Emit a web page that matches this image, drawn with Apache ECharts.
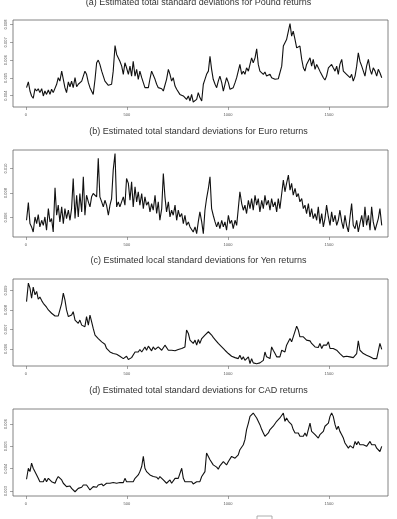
<!DOCTYPE html>
<html>
<head>
<meta charset="utf-8">
<script src="https://cdn.jsdelivr.net/npm/echarts@6/dist/echarts.min.js"></script>
<style>
  html, body { margin: 0; padding: 0; background: #fff; }
  #main { width: 397px; height: 519px; }
</style>
</head>
<body>
<div id="main"></div>
<script>
// day index of each sampled point (shared by all four series)
const days = [
  3, 12, 20, 28, 36, 45, 53, 61, 69, 78,
  86, 94, 102, 111, 119, 127, 135, 144, 152, 160,
  168, 177, 185, 193, 201, 210, 218, 226, 234, 243,
  251, 259, 267, 276, 284, 292, 300, 309, 317, 325,
  333, 342, 350, 358, 366, 375, 383, 391, 399, 408,
  416, 424, 432, 441, 449, 457, 465, 474, 482, 490,
  498, 507, 515, 523, 531, 540, 548, 556, 564, 573,
  581, 589, 597, 606, 614, 622, 630, 639, 647, 655,
  663, 672, 680, 688, 696, 705, 713, 721, 729, 738,
  746, 754, 762, 771, 779, 787, 795, 804, 812, 820,
  828, 837, 845, 853, 861, 870, 878, 886, 894, 903,
  911, 919, 927, 936, 944, 952, 960, 969, 977, 985,
  993, 1002, 1010, 1018, 1026, 1035, 1043, 1051, 1059, 1068,
  1076, 1084, 1092, 1101, 1109, 1117, 1125, 1134, 1142, 1150,
  1158, 1167, 1175, 1183, 1191, 1200, 1208, 1216, 1224, 1233,
  1241, 1249, 1257, 1266, 1274, 1282, 1290, 1299, 1307, 1315,
  1323, 1332, 1340, 1348, 1356, 1365, 1373, 1381, 1389, 1398,
  1406, 1414, 1422, 1431, 1439, 1447, 1455, 1464, 1472, 1480,
  1488, 1497, 1505, 1513, 1521, 1530, 1538, 1546, 1554, 1563,
  1571, 1579, 1587, 1596, 1604, 1612, 1620, 1629, 1637, 1645,
  1653, 1662, 1670, 1678, 1686, 1695, 1703, 1711, 1719, 1728,
  1736, 1744, 1752, 1761
];

// standard deviations, in units of 0.001
const pound = [
  4.45, 4.77, 4.26, 3.98, 3.85, 4.39, 4.26, 4.39, 4.17, 4.39,
  3.98, 4.26, 4.07, 4.32, 4.07, 4.36, 4.17, 4.07, 4.64, 5.01,
  4.82, 5.38, 4.92, 4.45, 4.17, 4.77, 4.50, 4.82, 4.45, 5.01,
  4.50, 4.64, 4.58, 4.82, 4.92, 5.38, 5.20, 4.73, 4.45, 4.36,
  4.07, 4.92, 5.85, 6.00, 5.76, 5.38, 5.10, 4.82, 4.73, 4.58,
  4.50, 4.64, 5.38, 6.82, 6.32, 6.41, 5.94, 5.66, 5.20, 5.85,
  5.57, 5.20, 5.66, 5.10, 5.94, 5.10, 5.48, 4.92, 5.38, 5.01,
  4.73, 4.45, 4.50, 4.45, 4.95, 5.38, 5.33, 4.92, 4.64, 4.45,
  4.36, 4.39, 4.26, 4.17, 4.92, 5.48, 5.20, 4.82, 5.01, 4.54,
  4.36, 4.26, 4.07, 4.17, 3.98, 3.89, 3.79, 3.98, 3.70, 4.07,
  3.64, 3.57, 3.79, 4.17, 3.89, 3.70, 4.64, 4.92, 5.20, 5.38,
  6.22, 5.48, 4.92, 4.64, 4.45, 4.82, 5.10, 4.73, 4.26, 4.64,
  5.01, 4.73, 4.36, 4.26, 4.45, 4.73, 5.01, 4.92, 5.76, 5.20,
  5.38, 5.20, 5.57, 5.38, 5.76, 6.13, 5.85, 6.13, 6.64, 5.76,
  5.38, 5.48, 5.20, 5.33, 5.10, 5.14, 5.20, 5.01, 5.10, 4.92,
  4.88, 4.95, 4.86, 5.66, 6.79, 6.88, 7.16, 7.63, 8.06, 7.35,
  7.63, 7.16, 6.69, 6.60, 6.79, 6.04, 5.57, 5.38, 5.76, 5.66,
  6.13, 5.66, 6.04, 5.48, 5.76, 5.57, 5.38, 5.29, 5.01, 4.88,
  5.10, 5.57, 5.66, 5.76, 5.57, 5.38, 5.66, 5.20, 5.76, 6.04,
  5.38, 5.29, 5.20, 5.10, 5.01, 5.20, 4.82, 5.10, 5.66, 6.41,
  5.94, 5.66, 5.38, 5.10, 5.66, 6.04, 5.48, 5.20, 5.57, 5.38,
  5.10, 5.48, 5.29, 5.01
];

const euro = [
  5.78, 7.22, 5.51, 5.24, 4.83, 6.05, 5.51, 6.24, 5.24, 5.78,
  5.37, 6.05, 4.97, 6.73, 5.65, 5.92, 4.83, 8.42, 6.19, 7.01,
  5.65, 6.87, 5.51, 6.73, 5.92, 6.60, 5.78, 6.73, 9.18, 5.92,
  7.82, 6.05, 7.96, 6.46, 9.32, 6.19, 7.82, 7.28, 6.87, 7.69,
  7.96, 8.10, 7.69, 10.82, 7.69, 7.28, 6.87, 7.41, 7.01, 6.19,
  7.01, 7.55, 9.86, 11.22, 6.87, 7.28, 6.87, 6.73, 7.69, 7.01,
  9.18, 8.78, 7.41, 8.91, 6.87, 8.50, 7.28, 8.10, 7.01, 7.96,
  6.73, 7.69, 7.01, 7.28, 6.46, 7.14, 6.60, 7.82, 6.33, 7.28,
  5.78, 6.73, 9.59, 7.69, 6.46, 7.28, 6.05, 6.60, 6.19, 7.01,
  5.78, 6.60, 6.05, 6.33, 5.51, 6.19, 5.37, 5.65, 5.24, 5.37,
  4.83, 5.24, 4.69, 5.65, 6.46, 5.65, 4.69, 6.60, 7.55, 8.37,
  9.32, 6.73, 6.19, 5.65, 5.24, 5.65, 5.10, 5.78, 5.24, 5.65,
  4.97, 6.19, 5.51, 5.78, 5.10, 5.78, 5.37, 6.73, 8.10, 7.14,
  6.60, 7.01, 6.33, 7.41, 6.73, 7.55, 6.60, 7.82, 7.01, 7.55,
  6.46, 7.41, 6.73, 7.82, 7.01, 7.41, 6.60, 7.55, 6.87, 7.28,
  6.46, 7.55, 6.73, 7.96, 9.05, 8.10, 8.78, 9.46, 8.23, 8.78,
  7.82, 8.37, 7.69, 7.96, 7.28, 7.55, 6.73, 7.01, 6.33, 7.14,
  6.05, 6.73, 5.92, 6.33, 5.78, 6.87, 5.51, 6.33, 5.24, 5.92,
  7.01, 6.05, 5.37, 6.46, 5.65, 6.19, 5.37, 5.78, 6.60, 5.65,
  5.10, 6.19, 5.37, 4.83, 6.05, 7.14, 5.37, 5.10, 5.78, 4.83,
  5.51, 6.19, 5.24, 6.87, 5.37, 6.19, 4.97, 6.87, 5.65, 4.97,
  4.83, 5.92, 6.73, 5.37
];

const yen = [
  8.43, 9.38, 9.12, 8.60, 9.17, 8.78, 8.95, 8.55, 8.66, 8.48,
  8.34, 8.26, 8.14, 8.00, 8.03, 7.83, 7.74, 7.69, 7.66, 7.69,
  7.66, 8.34, 8.86, 8.52, 8.00, 7.66, 7.57, 7.74, 7.91, 7.48,
  7.40, 7.31, 7.48, 7.22, 7.31, 7.14, 7.66, 7.22, 7.74, 7.40,
  7.05, 6.71, 6.66, 6.53, 6.45, 6.36, 6.28, 6.24, 6.02, 5.93,
  5.84, 5.88, 5.76, 5.84, 5.72, 5.67, 5.62, 5.55, 5.50, 5.55,
  5.62, 5.45, 5.50, 5.55, 5.62, 5.84, 5.93, 5.84, 5.97, 5.84,
  5.90, 6.10, 5.93, 6.14, 6.07, 5.90, 6.10, 5.97, 5.93, 6.10,
  6.19, 5.93, 6.02, 6.19, 6.10, 5.93, 5.84, 5.93, 5.84, 5.90,
  5.93, 5.97, 6.00, 6.02, 6.00, 6.10, 6.97, 6.79, 6.45, 6.36,
  6.28, 6.45, 6.19, 6.48, 6.28, 6.53, 6.45, 6.71, 6.62, 6.88,
  6.97, 6.71, 6.59, 6.48, 6.41, 6.28, 6.19, 6.10, 6.02, 5.93,
  5.84, 5.76, 5.72, 5.62, 5.67, 5.55, 5.59, 5.50, 5.67, 5.45,
  5.59, 5.41, 5.33, 5.59, 5.24, 5.50, 5.28, 5.33, 5.24, 5.33,
  5.28, 5.33, 5.41, 5.84, 5.59, 5.55, 5.50, 6.10, 5.93, 5.76,
  5.59, 5.62, 5.59, 5.93, 6.02, 5.84, 6.19, 6.10, 6.53, 6.36,
  6.62, 6.66, 7.17, 6.97, 6.62, 6.59, 6.62, 6.53, 6.45, 6.36,
  6.41, 6.28, 6.19, 6.10, 6.19, 6.07, 6.28, 6.02, 6.19, 6.10,
  6.19, 6.36, 6.02, 6.10, 6.02, 6.07, 5.93, 5.90, 5.76, 5.67,
  5.59, 5.55, 5.62, 5.55, 5.59, 5.50, 5.55, 5.59, 5.76, 6.41,
  5.93, 5.84, 5.76, 5.72, 5.67, 5.62, 5.59, 5.55, 5.50, 5.55,
  5.50, 5.41, 6.28, 5.97
];

const cad = [
  3.53, 4.02, 3.87, 4.25, 4.02, 3.95, 3.72, 3.57, 3.42, 3.50,
  3.42, 3.57, 3.42, 3.57, 3.50, 3.42, 3.50, 3.35, 3.53, 3.65,
  3.62, 3.50, 3.35, 3.27, 3.20, 3.12, 3.23, 3.12, 3.05, 2.97,
  2.93, 3.12, 3.05, 3.17, 3.27, 3.20, 3.27, 3.23, 3.05, 2.97,
  3.20, 3.23, 3.17, 3.27, 3.20, 3.32, 3.23, 3.27, 3.35, 3.27,
  3.35, 3.32, 3.38, 3.32, 3.35, 3.42, 3.38, 3.35, 3.38, 3.57,
  3.42, 3.38, 3.42, 3.50, 3.42, 3.57, 3.50, 3.72, 3.87, 4.10,
  4.55, 4.02, 3.87, 3.80, 3.72, 3.80, 3.65, 3.68, 3.62, 3.53,
  3.65, 3.57, 3.50, 3.42, 3.35, 3.42, 3.50, 3.35, 3.42, 3.57,
  3.65, 3.57, 3.50, 4.02, 3.57, 3.42, 3.50, 3.42, 3.35, 3.42,
  3.32, 3.35, 3.42, 3.50, 3.42, 3.65, 3.72, 3.87, 4.70, 4.62,
  4.40, 4.32, 4.17, 4.10, 4.07, 3.98, 4.13, 4.07, 4.32, 4.25,
  4.17, 4.32, 4.40, 4.55, 4.58, 4.47, 4.55, 4.62, 4.85, 4.92,
  5.07, 5.30, 5.75, 6.04, 6.34, 6.27, 6.49, 6.42, 6.27, 6.19,
  5.97, 5.75, 5.60, 5.45, 5.52, 5.60, 5.75, 5.67, 5.90, 5.82,
  6.12, 6.04, 6.27, 6.19, 6.49, 6.12, 6.27, 6.12, 6.04, 5.97,
  5.75, 5.60, 5.52, 5.60, 5.45, 5.52, 5.45, 5.60, 5.45, 5.52,
  6.04, 5.67, 5.75, 5.52, 5.45, 5.37, 5.52, 5.45, 5.67, 5.90,
  5.82, 6.04, 6.34, 6.49, 6.34, 5.97, 5.75, 5.90, 5.67, 5.52,
  5.37, 5.15, 5.07, 4.92, 5.03, 5.07, 4.92, 5.22, 5.07, 5.22,
  5.07, 5.15, 5.07, 5.15, 5.00, 5.07, 5.22, 5.07, 5.15, 5.07,
  4.92, 4.85, 4.77, 5.00
];

// tick labels
const xTicks = [0, 500, 1000, 1500];
const poundTicks = [4, 5, 6, 7, 8];
const euroTicks = [6, 8, 10];
const yenTicks = [6, 7, 8, 9];
const cadTicks = [3, 4, 5, 6];

const titles = [
  '(a) Estimated total standard deviations for Pound returns',
  '(b) Estimated total standard deviations for Euro returns',
  '(c) Estimated local standard deviations for Yen returns',
  '(d) Estimated total standard deviations for CAD returns'
];

const panels = [
  { title: titles[0], values: pound, ticks: poundTicks, min: 3.36, max: 8.26, top: 20, titleTop: -1.5 },
  { title: titles[1], values: euro, ticks: euroTicks, min: 4.42, max: 11.5, top: 150, titleTop: 127.5 },
  { title: titles[2], values: yen, ticks: yenTicks, min: 5.12, max: 9.59, top: 279, titleTop: 256.5 },
  { title: titles[3], values: cad, ticks: cadTicks, min: 2.78, max: 6.67, top: 409, titleTop: 386.5 }
];

const font = 'Liberation Sans, Arial, sans-serif';
const myChart = echarts.init(document.getElementById('main'));

const option = {
  animation: false,
  backgroundColor: '#fff',
  title: panels.map(p => ({
    text: p.title,
    left: 'center',
    top: p.titleTop,
    padding: 0,
    textStyle: { fontSize: 9, fontWeight: 'normal', color: '#333', fontFamily: font }
  })),
  grid: panels.map(p => ({
    show: true,
    left: 13,
    width: 375,
    top: p.top,
    height: 87,
    borderColor: '#666',
    borderWidth: 0.8,
    backgroundColor: 'transparent'
  })),
  xAxis: panels.map((p, i) => ({
    type: 'value',
    gridIndex: i,
    min: -64,
    max: 1792,
    splitLine: { show: false },
    axisLine: { show: false, onZero: false },
    axisTick: { show: true, length: 3, customValues: xTicks, lineStyle: { color: '#666', width: 0.6 } },
    axisLabel: {
      customValues: xTicks,
      fontSize: 4,
      color: '#555',
      margin: 6,
      fontFamily: font,
      formatter: v => String(v)
    }
  })),
  yAxis: panels.map((p, i) => ({
    type: 'value',
    gridIndex: i,
    min: p.min,
    max: p.max,
    splitLine: { show: false },
    axisLine: { show: false, onZero: false },
    axisTick: { show: true, length: 3, customValues: p.ticks, lineStyle: { color: '#666', width: 0.6 } },
    axisLabel: {
      customValues: p.ticks,
      rotate: 90,
      fontSize: 4,
      color: '#555',
      margin: 5,
      fontFamily: font,
      formatter: v => (v / 1000).toFixed(3)
    }
  })),
  series: panels.map((p, i) => ({
    type: 'line',
    xAxisIndex: i,
    yAxisIndex: i,
    data: days.map((d, j) => [d, p.values[j]]),
    symbol: 'none',
    silent: true,
    lineStyle: { color: '#111', width: 1.1 }
  })),
  graphic: [
    {
      type: 'rect',
      shape: { x: 257, y: 516, width: 15, height: 8 },
      style: { fill: 'none', stroke: '#999', lineWidth: 0.8 }
    }
  ]
};

myChart.setOption(option);
</script>
</body>
</html>
